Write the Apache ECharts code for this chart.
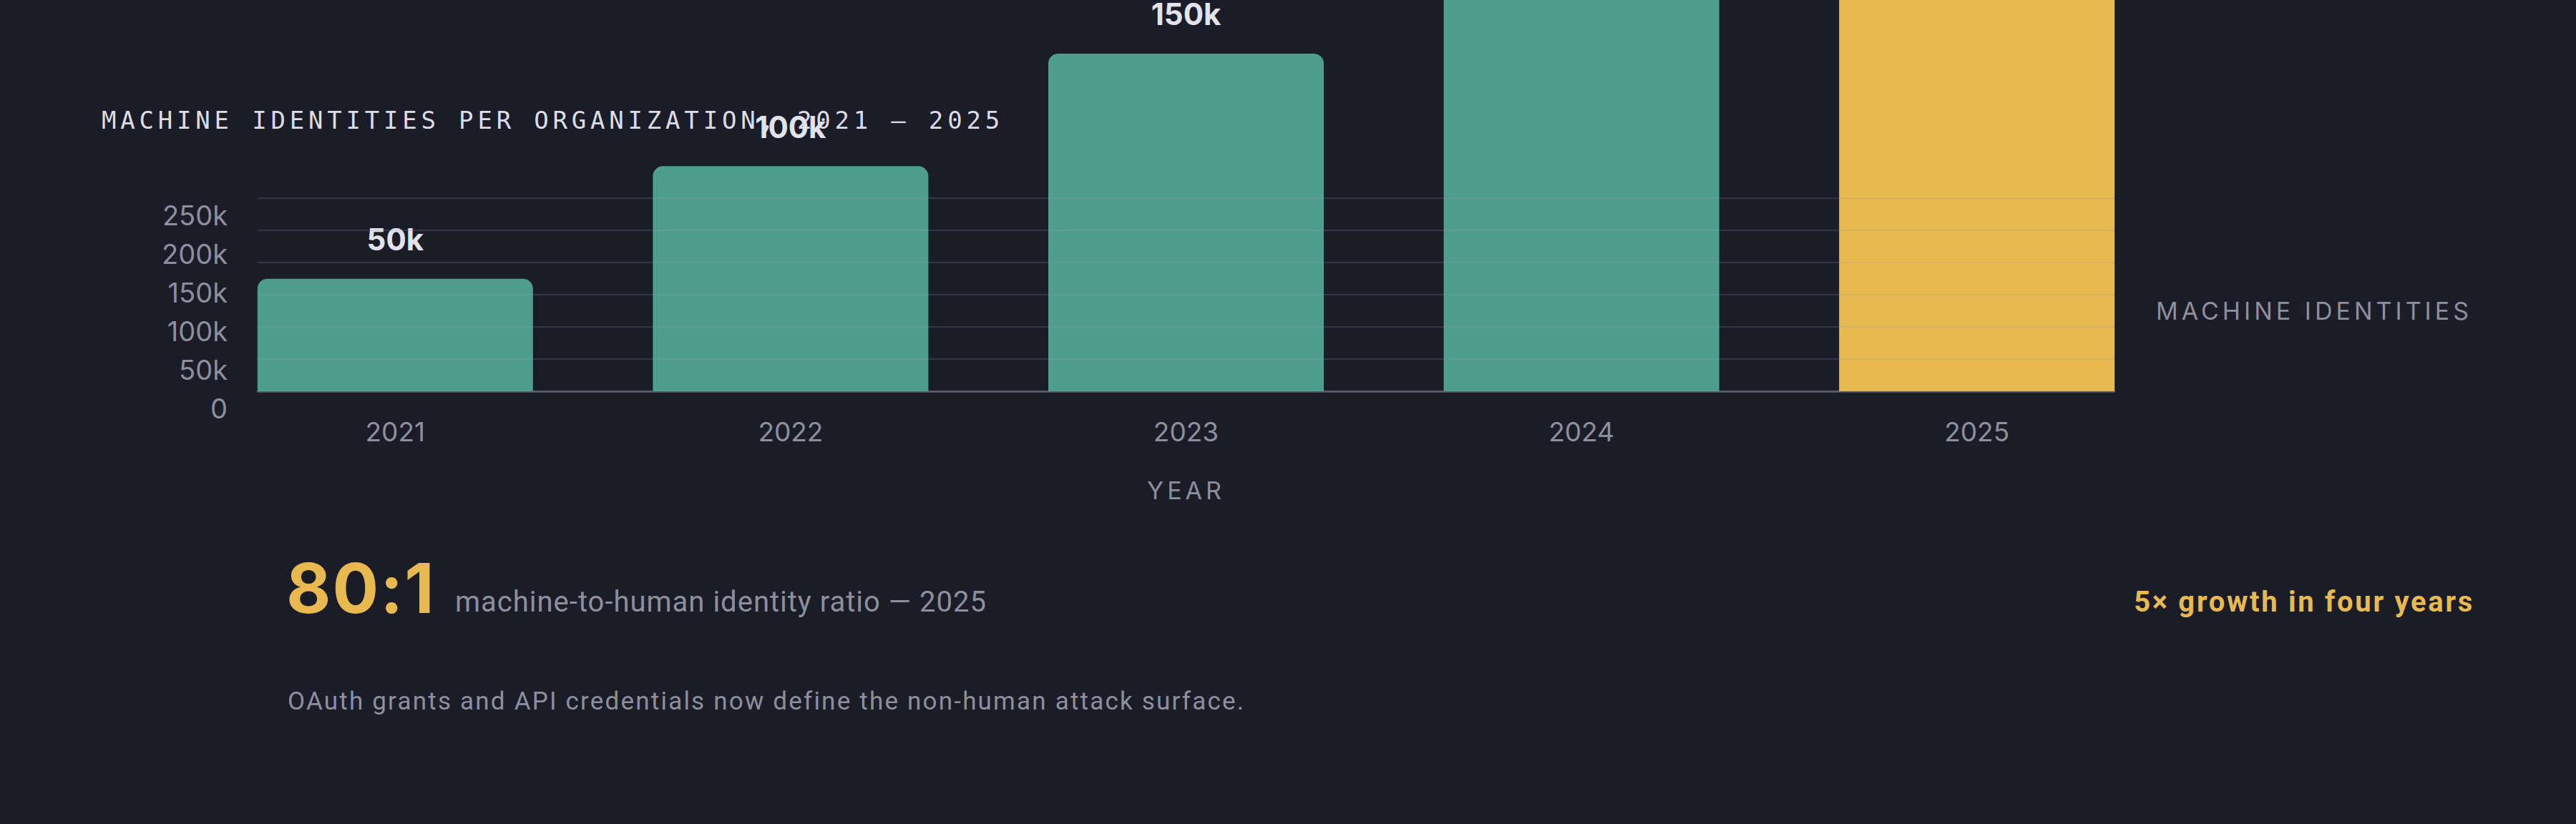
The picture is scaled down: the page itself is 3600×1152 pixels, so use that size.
<!DOCTYPE html>
<html>
<head>
<meta charset="utf-8">
<script src="https://cdn.jsdelivr.net/npm/echarts@6/dist/echarts.min.js"></script>
<style>
  html, body { margin: 0; padding: 0; background: #1a1c28; }
  #chart { width: 3600px; height: 1152px; }
</style>
</head>
<body>
<div id="chart"></div>
<script>
// ---- data ----
const years = [2021, 2022, 2023, 2024, 2025];
const identities = [50000, 100000, 150000, 200000, 250000];
const yTickValues = [0, 50000, 100000, 150000, 200000, 250000];
const highlightYear = 2025;

// ---- texts ----
const titleText = 'MACHINE IDENTITIES PER ORGANIZATION, 2021 – 2025';
const seriesLabel = 'MACHINE IDENTITIES';
const xName = 'YEAR';
const ratioValue = '80:1';
const ratioText = 'machine-to-human identity ratio — 2025';
const growthText = '5× growth in four years';
const noteText = 'OAuth grants and API credentials now define the non-human attack surface.';

// ---- style ----
const BG = '#1a1c28';
const TEAL = '#4e9e8e';
const GOLD = '#e8b94e';
const GREY = '#8e8f9c';
const LIGHT = '#dcdce6';
const SANS = 'Inter, "Noto Sans", sans-serif';
const MONO = '"DejaVu Sans Mono", monospace';
const SANS2 = 'Roboto, Inter, sans-serif';

const fmtK = v => v === 0 ? '0' : (v / 1000) + 'k';

const chart = echarts.init(document.getElementById('chart'), null, { renderer: 'svg' });

const option = {
  backgroundColor: BG,
  animation: false,
  grid: { left: 360, right: 645, top: 277, bottom: 605, containLabel: false },
  xAxis: {
    type: 'value',
    min: 2020.652,
    max: 2025.348,
    name: xName,
    nameLocation: 'middle',
    nameGap: 121,
    nameTextStyle: { color: GREY, fontSize: 34, fontFamily: SANS },
    axisLine: { show: true, lineStyle: { color: '#4a4c58', width: 3 } },
    axisTick: { show: false },
    splitLine: { show: false },
    axisLabel: {
      customValues: years,
      formatter: v => String(v),
      color: GREY,
      fontSize: 37,
      fontFamily: SANS,
      margin: 38
    }
  },
  yAxis: [
    {
      type: 'value',
      min: 0,
      max: 85800,
      interval: 14300,
      z: 3,
      axisLine: { show: false },
      axisTick: { show: false },
      axisLabel: { show: false },
      splitLine: { show: true, lineStyle: { color: 'rgba(150,150,172,0.22)', width: 2 } }
    },
    {
      type: 'value',
      min: yTickValues[0],
      max: yTickValues[yTickValues.length - 1],
      interval: yTickValues[1] - yTickValues[0],
      position: 'left',
      axisLine: { show: false },
      axisTick: { show: false },
      splitLine: { show: false },
      axisLabel: {
        formatter: fmtK,
        color: GREY,
        fontSize: 38,
        fontFamily: SANS,
        margin: 42,
        verticalAlign: 'top',
        lineHeight: 48
      }
    }
  ],
  series: [
    {
      type: 'bar',
      yAxisIndex: 0,
      clip: false,
      barWidth: 385,
      data: years.map((y, i) => ({
        value: [y, identities[i]],
        itemStyle: { color: y === highlightYear ? GOLD : TEAL }
      })),
      itemStyle: { borderRadius: [14, 14, 0, 0] },
      label: {
        show: true,
        position: 'top',
        distance: 34,
        formatter: p => fmtK(p.value[1]),
        color: '#e2e2ea',
        fontSize: 42,
        fontWeight: 'bold',
        fontFamily: SANS
      }
    }
  ],
  graphic: [
    {
      type: 'text', x: 142, y: 168,
      style: { text: titleText, fill: LIGHT, font: '34px ' + MONO, align: 'left', verticalAlign: 'middle' }
    },
    {
      type: 'text', x: 3455, y: 434,
      style: { text: seriesLabel, fill: GREY, font: '34px ' + SANS, align: 'right', verticalAlign: 'middle' }
    },
    {
      type: 'text', x: 400, y: 822,
      style: { text: ratioValue, fill: GOLD, font: 'bold 96px ' + SANS, align: 'left', verticalAlign: 'middle' }
    },
    {
      type: 'text', x: 636, y: 841,
      style: { text: ratioText, fill: GREY, font: '40px ' + SANS2, align: 'left', verticalAlign: 'middle' }
    },
    {
      type: 'text', x: 3458, y: 841,
      style: { text: growthText, fill: GOLD, font: 'bold 40px ' + SANS2, align: 'right', verticalAlign: 'middle' }
    },
    {
      type: 'text', x: 402, y: 980,
      style: { text: noteText, fill: GREY, font: '35px ' + SANS2, align: 'left', verticalAlign: 'middle' }
    }
  ]
};

chart.setOption(option);

// letter tracking for the spaced-out captions (SVG text supports letter-spacing)
const tracking = {};
tracking[titleText] = 5.8;
tracking[seriesLabel] = 5;
tracking[xName] = 5;
tracking[ratioValue] = 2;
tracking[ratioText] = 1;
tracking[growthText] = 2.7;
tracking[noteText] = 2.2;
function applyTracking() {
  document.querySelectorAll('#chart text').forEach(t => {
    const v = tracking[t.textContent];
    if (v) t.setAttribute('letter-spacing', v + 'px');
  });
}
chart.on('finished', applyTracking);
applyTracking();
</script>
</body>
</html>
